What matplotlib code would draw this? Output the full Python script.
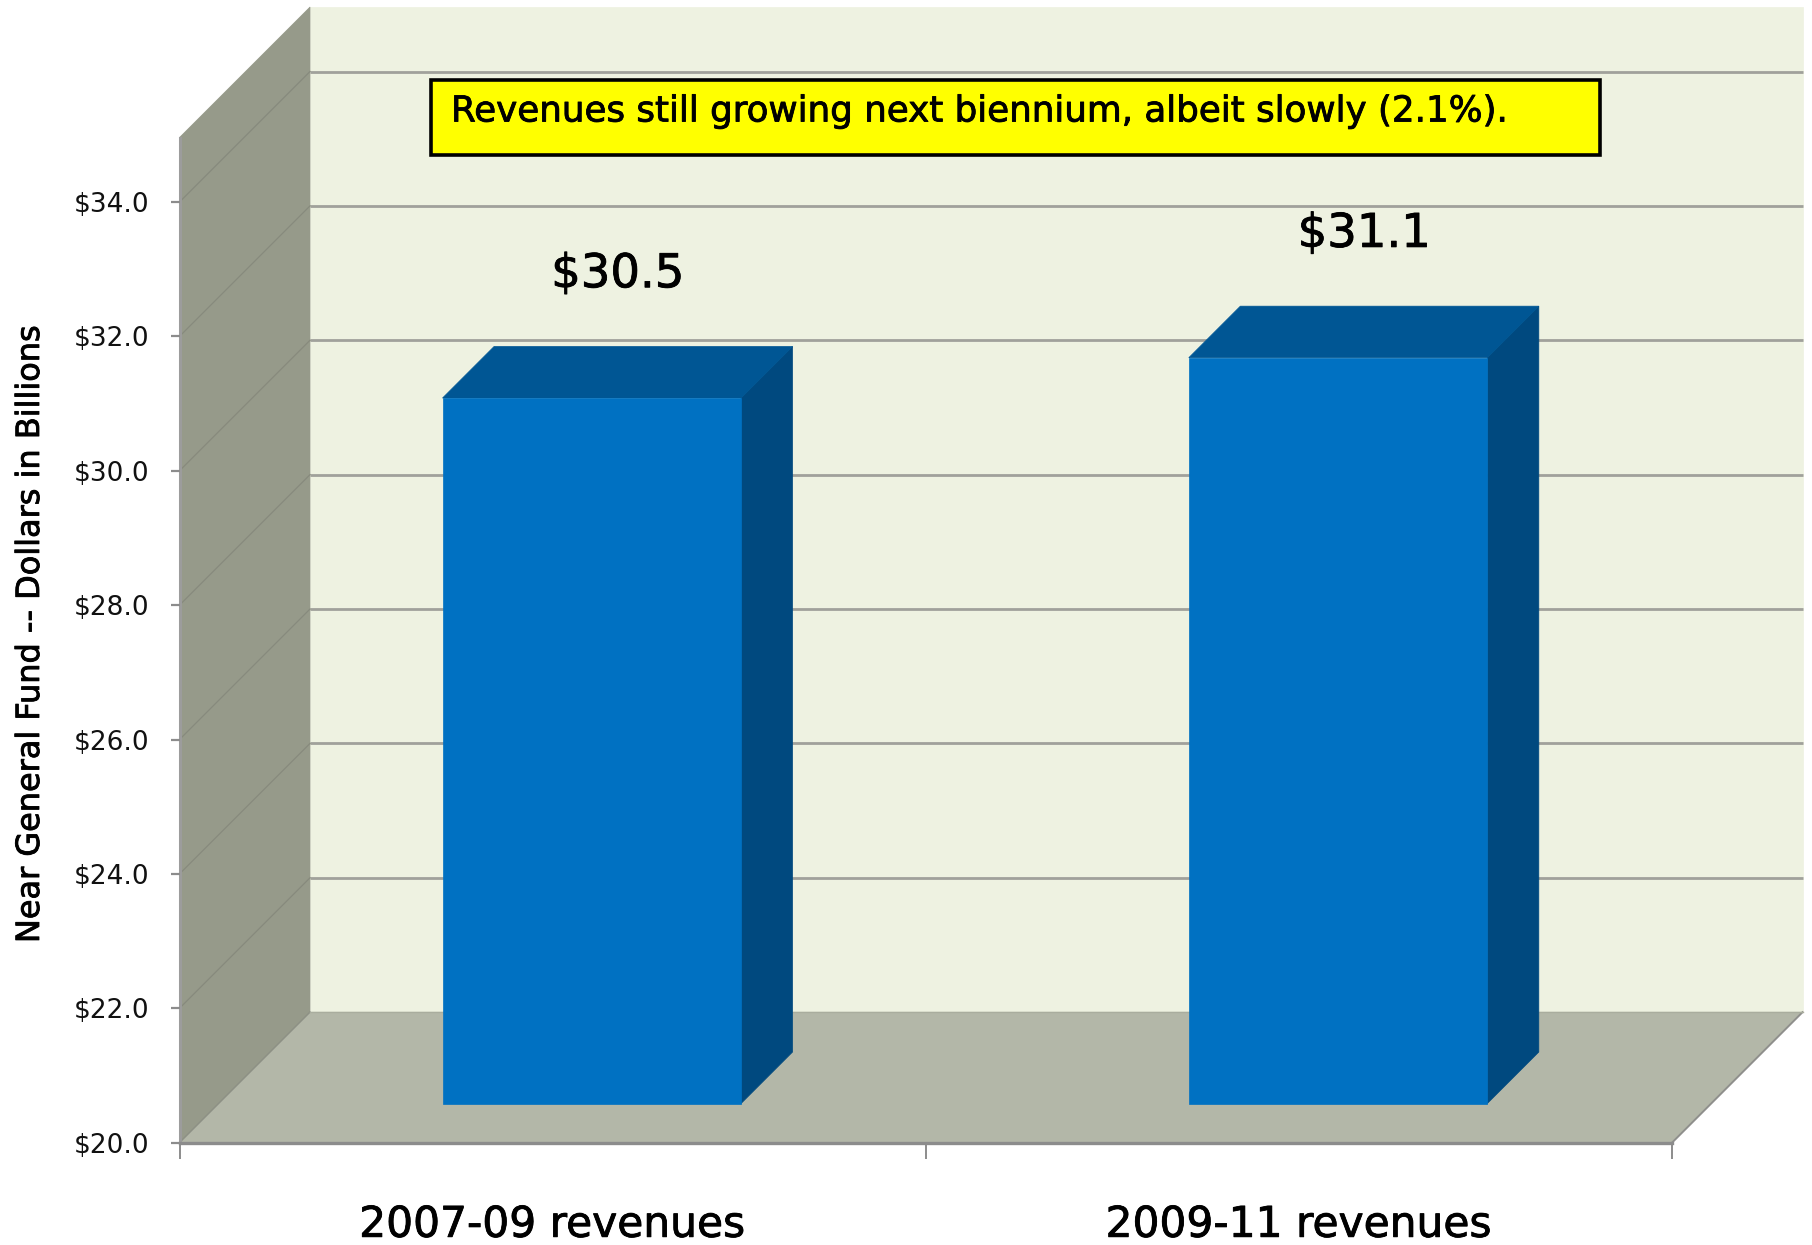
import matplotlib
matplotlib.use("Agg")
import matplotlib.pyplot as plt
import matplotlib.patheffects as pe
from matplotlib.patches import Polygon, Rectangle

# Data
categories = ["2007-09 revenues", "2009-11 revenues"]
revenues = [30.5, 31.1]
revenue_labels = ["$30.5", "$31.1"]
y_ticks = [20, 22, 24, 26, 28, 30, 32, 34]
y_tick_labels = ["$20.0", "$22.0", "$24.0", "$26.0", "$28.0", "$30.0", "$32.0", "$34.0"]
y_label = "Near General Fund -- Dollars in Billions"
note = "Revenues still growing next biennium, albeit slowly (2.1%)."

W, H = 1812, 1245
plt.rcParams['font.family'] = ['DejaVu Sans']
fig = plt.figure(figsize=(W / 100, H / 100), dpi=100, facecolor="white")

# front plane of the pseudo-3D box, in pixels
L, R, B, T = 179.5, 1672.0, 1142.7, 137.5
ax = fig.add_axes([L / W, 1 - B / H, (R - L) / W, (B - T) / H])
ax.set_xlim(0, 2)
ax.set_ylim(20, 34.96)
ax.patch.set_visible(False)

DEPTH_PX = 130.5
dx_unit = DEPTH_PX / ((R - L) / 2)
dy_unit = DEPTH_PX / ((B - T) / 14.96)

heavy = [pe.withStroke(linewidth=0.6, foreground="black")]


def proj(x, y, d):
    """Project a (category x, value y, depth d) point on the chart plane."""
    return (x + d * dx_unit, y + d * dy_unit)


def face(points, color, z, edge=None, lw=0):
    ax.add_patch(Polygon([proj(*p) for p in points], closed=True, facecolor=color,
                         edgecolor=edge if edge else color, linewidth=lw if edge else 0.5,
                         zorder=z, clip_on=False))


ymin, ymax = ax.get_ylim()
xmin, xmax = ax.get_xlim()
WALL, SIDE, FLOOR = "#EEF2E1", "#969A8A", "#B3B7A8"
GRID = "#A0A19B"

# back wall, left wall, floor
face([(xmin, ymin, 1), (xmax, ymin, 1), (xmax, ymax, 1), (xmin, ymax, 1)], WALL, 1)
face([(xmin, ymin, 0), (xmin, ymin, 1), (xmin, ymax, 1), (xmin, ymax, 0)], SIDE, 1.1)
face([(xmin, ymin, 0), (xmax, ymin, 0), (xmax, ymin, 1), (xmin, ymin, 1)], FLOOR, 1.2)

# gridlines on the walls
for v in y_ticks:
    if v > ymin:
        x0, y0 = proj(xmin, v, 1)
        x1, y1 = proj(xmax, v, 1)
        ax.plot([x0, x1], [y0, y1], color=GRID, lw=2.0, zorder=1.05, clip_on=False,
                solid_capstyle="butt")
    x0, y0 = proj(xmin, v, 0)
    x1, y1 = proj(xmin, v, 1)
    ax.plot([x0, x1], [y0, y1], color="#878A7D", lw=0.9, zorder=1.15, clip_on=False)

# floor edges
x0, y0 = proj(xmin, ymin, 0); x1, y1 = proj(xmin, ymin, 1)
ax.plot([x0, x1], [y0, y1], color="#8C8F84", lw=0.9, zorder=1.3, clip_on=False)
x0, y0 = proj(xmax, ymin, 0); x1, y1 = proj(xmax, ymin, 1)
ax.plot([x0, x1], [y0, y1], color="#8F8F8C", lw=1.4, zorder=1.3, clip_on=False)
x0, y0 = proj(xmin, ymin, 1); x1, y1 = proj(xmax, ymin, 1)
ax.plot([x0, x1], [y0, y1], color="#A9AD9E", lw=1.0, zorder=1.3, clip_on=False)

# bars
BAR_W, D0, D1 = 0.4, 0.3, 0.695
FRONT, TOP, RIGHT = "#0071C2", "#005694", "#00497F"
for i, v in enumerate(revenues):
    xc = i + 0.5
    a, b = xc - BAR_W / 2, xc + BAR_W / 2
    face([(b, ymin, D0), (b, ymin, D1), (b, v, D1), (b, v, D0)], RIGHT, 3)
    face([(a, v, D0), (b, v, D0), (b, v, D1), (a, v, D1)], TOP, 3)
    face([(a, ymin, D0), (b, ymin, D0), (b, v, D0), (a, v, D0)], FRONT, 3.1)
    ax.annotate(revenue_labels[i], xy=proj(xc, v, 0.5), xytext=(0, 61), textcoords="offset points",
                ha="center", va="baseline", fontsize=33.5, color="black", zorder=5,
                annotation_clip=False, path_effects=heavy)

# axes
for s in ("top", "right"):
    ax.spines[s].set_visible(False)
ax.spines["left"].set_color("#9C9C9C")
ax.spines["left"].set_linewidth(2.2)
ax.spines["bottom"].set_color("#8C8C8C")
ax.spines["bottom"].set_linewidth(2.4)
ax.spines["left"].set_zorder(2)
ax.spines["bottom"].set_zorder(2)
ax.set_axisbelow(False)

ax.set_yticks(y_ticks)
ax.set_yticklabels(y_tick_labels, fontsize=19, color="#111111")
ax.tick_params(axis="y", length=6.5, width=1.6, color="#8C8C8C", pad=15)

ax.set_xticks([0, 1, 2])
ax.set_xticklabels([])
ax.tick_params(axis="x", which="major", length=11.5, width=1.4, color="#8C8C8C")
ax.set_xticks([0.5, 1.5], minor=True)
ax.set_xticklabels(categories, minor=True, fontsize=30.5, color="black", path_effects=heavy)
ax.tick_params(axis="x", which="minor", length=0, pad=44)

ax.set_ylabel(y_label, fontsize=23, color="black", path_effects=heavy)
ax.yaxis.set_label_coords((46 - L) / (R - L), (B - 634) / (B - T))

# note box
fig.add_artist(Rectangle((430.5 / W, 1 - 155 / H), (1600 - 430.5) / W, (155 - 80) / H,
                         transform=fig.transFigure, facecolor="#FFFF00", edgecolor="black",
                         linewidth=2.6, zorder=6))
fig.text(451 / W, 1 - 121.5 / H, note, fontsize=25.7, color="black", ha="left", va="baseline",
         zorder=7, path_effects=heavy)

fig.savefig("out.png", dpi=100)
